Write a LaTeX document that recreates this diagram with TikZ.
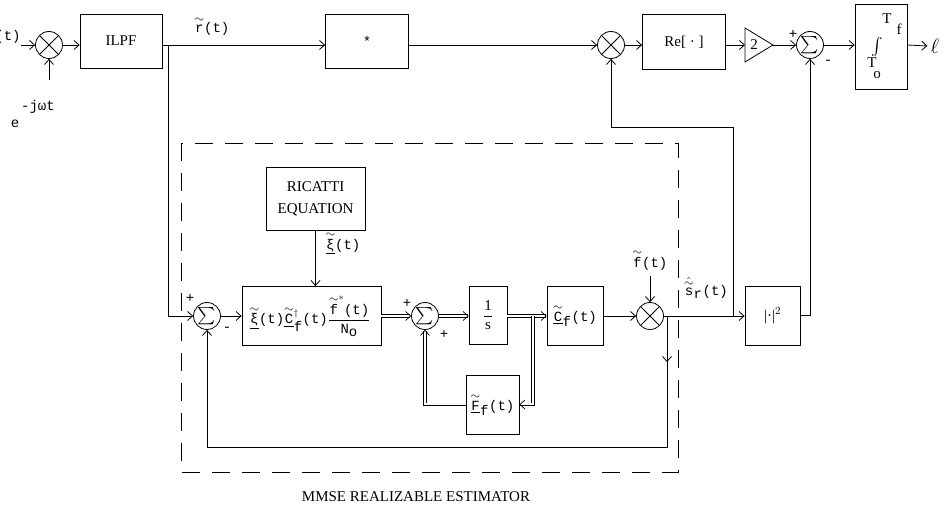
\documentclass[tikz,border=0pt]{standalone}
\usepackage{amsmath}
\usepackage{graphicx}
\usepackage{fontspec}
\setmainfont{Liberation Mono}
\newfontfamily\capsf{Liberation Serif}
\usetikzlibrary{arrows.meta,shapes.geometric}
\newcommand{\tld}[1]{\ensuremath{\overset{\raisebox{-1.5pt}{\scalebox{0.85}{$\sim$}}}{\mbox{#1}}}}
\newcommand{\capt}{\capsf\fontsize{15}{17}\selectfont}
\newcommand{\sumsym}{{\fontsize{17}{17}\selectfont$\textstyle\sum$}}
\begin{document}
\begin{tikzpicture}[x=1pt,y=-1pt, line width=0.8pt, font=\fontsize{14}{16}\selectfont,
 blk/.style={draw, inner sep=0pt},
 mul/.style={draw, circle, minimum size=27pt, inner sep=0pt,
   path picture={\draw[line width=0.8pt] (path picture bounding box.north west)--(path picture bounding box.south east)
     (path picture bounding box.south west)--(path picture bounding box.north east);}},
 sumc/.style={draw, circle, minimum size=27pt, inner sep=0pt},
 arr/.style={-{Straight Barb[length=5pt,width=9pt]}},
 dbl/.style={double, double distance=2pt, line width=0.7pt},
 lbl/.style={inner sep=0pt}]
\useasboundingbox (0,0) rectangle (948,510);

% ---- top row
\node[lbl] (inlbl) at (8,37) {(t)};
\coordinate (inpt) at (21,45);
\node[mul] (m1) at (49,45) {};
\coordinate (ejw) at (49,80);
\node[lbl] (expo) at (38,107) {-jωt};
\node[lbl] (ee) at (15,124) {e};
\node[blk, minimum width=82pt, minimum height=54pt] (ilpf) at (121,41) {\capt ILPF};
\coordinate (br1) at (168,45);
\node[lbl] (rlbl) at (212,26) {\tld{r}(t)};
\node[blk, minimum width=83pt, minimum height=54pt] (star) at (367,41) {*};
\node[mul] (m2) at (611,45) {};
\node[blk, minimum width=83pt, minimum height=55pt] (re) at (684,42) {\capt Re[ · ]};
% gain triangle
\coordinate (triw) at (745,45);
\coordinate (trie) at (773,45);
\draw (745,28) -- (trie) -- (745,62) -- cycle;
\node[lbl] (tri) at (754,45) {\capt 2};
\node[sumc] (s3) at (810,45) {\sumsym};
\node[lbl] (p3) at (793,34) {+};
\node[lbl] (n3) at (828,62) {-};
\node[blk, minimum width=52pt, minimum height=85pt] (integ) at (881,46.5) {};
\node[lbl] (tf) at (887,19) {\capt T};
\node[lbl] (tfs) at (899,29) {\capt f};
\node[lbl] (intg) at (877,47) {\fontsize{16}{16}\selectfont$\int$};
\node[lbl] (to) at (872,63) {\capt T};
\node[lbl] (tos) at (877,75) {\capt o};
\node[lbl] (ell) at (935,46) {\fontsize{21}{21}\selectfont$\ell$};

\draw[arr] (inpt) -- (m1.west);
\draw[arr] (ejw) -- (m1.south);
\draw[arr] (m1.east) -- (m1.east -| ilpf.west);
\draw[arr] (ilpf.east |- m1) -- (star.west |- m1);
\draw[arr] (star.east |- m2) -- (m2.west);
\draw[arr] (m2.east) -- (m2.east -| re.west);
\draw[arr] (re.east |- m2) -- (triw);
\draw[arr] (trie) -- (s3.west);
\draw[arr] (s3.east) -- (s3.east -| integ.west);
\draw[arr] (integ.east |- s3) -- ([xshift=-3pt]ell.west);

% ---- estimator
\draw[dashed, dash pattern=on 18pt off 12pt, line width=0.8pt] (181,143) rectangle (678,472);
\node[blk, minimum width=99pt, minimum height=63pt, align=center] (ric) at (315.5,198.5)
   {\capt RICATTI\\[6pt]\capt EQUATION};
\node[lbl] (xil) at (343,243) {\underline{\tld{ξ}}(t)};
\node[sumc] (s1) at (207,316) {\sumsym};
\node[lbl] (p1) at (190,298) {+};
\node[lbl] (n1) at (227,329) {-};
\node[blk, minimum width=139pt, minimum height=59pt] (gain) at (311.5,316)
   {\hspace{-3pt}\underline{\tld{ξ}}(t)\underline{\tld{C}}$^{\dagger}_{\mbox{f}}$(t)$\dfrac{\tld{f}^{*}\mbox{(t)}}{\mbox{N}_{\mbox{o}}}$};
\node[sumc] (s2) at (425,316) {\sumsym};
\node[lbl] (p2a) at (407,303) {+};
\node[lbl] (p2b) at (444,334) {+};
\node[blk, minimum width=38pt, minimum height=58pt] (onebys) at (488,315) {$\dfrac{\mbox{\capt 1}}{\mbox{\capt s}}$};
\node[blk, minimum width=56pt, minimum height=59pt] (cf) at (575,315.5) {\underline{\tld{C}}$_{\mbox{f}}$(t)};
\node[mul] (m3) at (650,316) {};
\node[lbl] (fl) at (650,260) {\tld{f}(t)};
\coordinate (fin) at (650,276);
\node[lbl] (srl) at (706,288) {$\hat{\tld{s}}_{\mbox{r}}$(t)};
\node[blk, minimum width=55pt, minimum height=59pt] (sq) at (772.5,315.5) {\capt |·|$^{2}$};
\node[blk, minimum width=53pt, minimum height=59pt] (ff) at (492.5,404.5) {\underline{\tld{F}}$_{\mbox{f}}$(t)};
\coordinate (br2) at (533,316);
\coordinate (tap1) at (667,316);
\coordinate (tap2) at (733,316);
\node[lbl] (cap) at (416,497) {\capt MMSE REALIZABLE ESTIMATOR};

\draw[arr] (br1) |- (s1.west);
\draw[arr] (s1.east) -- (gain.west |- s1);
\draw[arr] (ric.south) -- (ric.south |- gain.north);
\draw[dbl, arr] (gain.east |- s2) -- (s2.west);
\draw[dbl, arr] (s2.east) -- (onebys.west |- s2);
\draw[dbl, arr] (onebys.east |- s2) -- (cf.west |- s2);
\draw[dbl, arr] (br2) |- (ff.east);
\draw[dbl, arr] (ff.west) -| (s2.south);
\draw[arr] (cf.east |- m3) -- (m3.west);
\draw[arr] (fin) -- (m3.north);
\draw[arr] (m3.east) -- (sq.west |- m3);
\draw[arr] (tap1) -- ++(0,46);
\draw[arr] (tap1) -- ++(0,131) -| (s1.south);
\draw[arr] (tap2) -- ++(0,-189) -| (m2.south);
\draw[arr] (sq.east) -| (s3.south);
\end{tikzpicture}
\end{document}
